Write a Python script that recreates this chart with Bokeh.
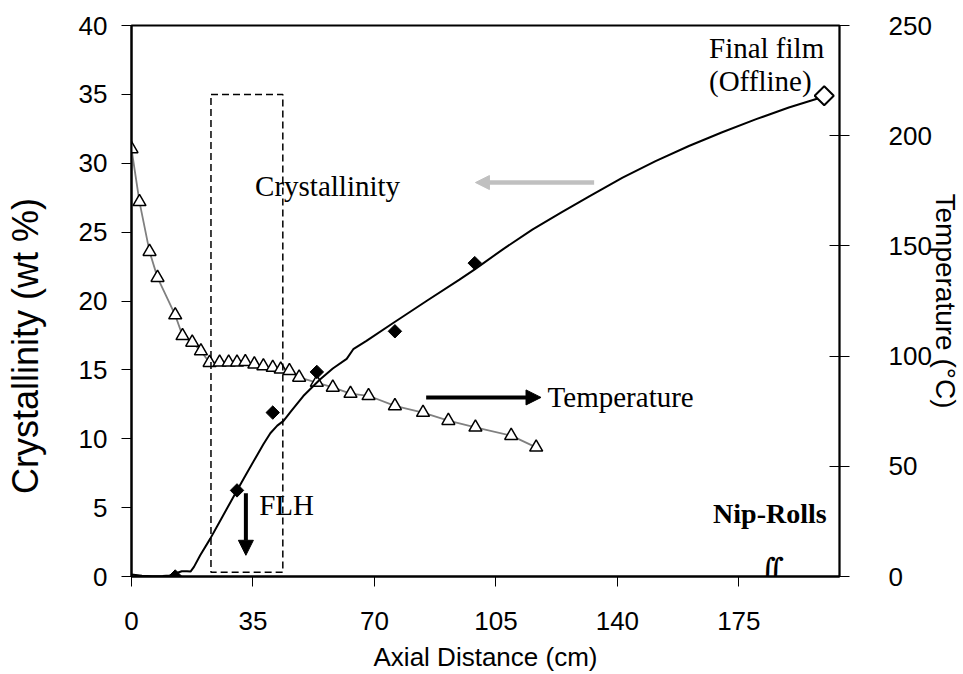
import math
from bokeh.plotting import figure
from bokeh.models import (Range1d, LinearAxis, FixedTicker, BoxAnnotation, Arrow,
                          NormalHead, Label)
from bokeh.embed import file_html
from bokeh.resources import INLINE

# ---------------- data ----------------
x_ticks = [0, 35, 70, 105, 140, 175]
cryst_ticks = [0, 5, 10, 15, 20, 25, 30, 35, 40]
temp_ticks = [0, 50, 100, 150, 200, 250]

# temperature profile (right axis, °C)
temp_x = [0, 2.3, 5.2, 7.5, 12.6, 14.7, 17.5, 20.0, 22.5, 25.4, 28.0, 30.4, 32.8,
          35.4, 38.0, 40.7, 43.0, 45.5, 48.3, 53.4, 58.0, 63.1, 68.3, 75.9, 84.0,
          91.3, 99.1, 109.4, 116.6]
temp_c = [194.0, 170.0, 147.4, 135.6, 118.6, 109.2, 106.2, 102.3, 97.0, 97.2, 97.2,
          97.2, 97.4, 96.3, 95.5, 94.8, 94.0, 93.3, 90.3, 88.0, 85.8, 83.0, 82.0,
          77.4, 74.4, 70.7, 67.7, 63.9, 58.6]

# measured crystallinity (left axis, wt %)
cryst_x = [12.6, 30.4, 40.7, 53.4, 75.9, 98.9]
cryst_wt = [0.0, 6.25, 11.9, 14.85, 17.8, 22.75]

# final film (offline)
final_x = [199.6]
final_wt = [34.9]

# model crystallinity curve
fit_x = [0, 3, 6, 9, 11, 13, 14.5, 16, 17, 18, 19.8, 22.7, 26, 30.4, 33, 36.1, 38,
         40, 42, 43.8, 46, 49.5, 54.3, 58, 62, 63.9, 67.7, 75.4, 85, 94.5, 98.9,
         107, 115.6, 124, 131.9, 141.5, 151, 160.6, 170.2, 180, 189.4, 199.6]
fit_wt = [0.15, 0.06, 0.02, 0.03, 0.08, 0.25, 0.38, 0.38, 0.36, 0.7, 1.54, 2.75,
          4.25, 6.25, 7.4, 8.77, 9.6, 10.4, 10.95, 11.3, 12.0, 13.1, 14.3, 15.1,
          15.8, 16.5, 17.1, 18.4, 20.0, 21.55, 22.3, 23.75, 25.2, 26.45, 27.6, 28.95,
          30.15, 31.25, 32.25, 33.2, 34.05, 34.85]

SANS = "Liberation Sans"
SERIF = "Liberation Serif"
NBSP = "\u00a0"
FIGSP = "\u2007"

p = figure(width=963, height=674, x_range=Range1d(0, 204.0), y_range=Range1d(0, 40),
           output_backend="svg", toolbar_location=None,
           min_border_left=131, min_border_right=122, min_border_top=25,
           min_border_bottom=96)
p.extra_y_ranges = {"temp": Range1d(0, 250)}

p.xgrid.visible = False
p.ygrid.visible = False
p.outline_line_color = "black"
p.outline_line_width = 2
p.background_fill_color = "white"
p.border_fill_color = "white"

# axes
xa = p.xaxis[0]
xa.ticker = FixedTicker(ticks=x_ticks)
xa.axis_label = "Axial Distance (cm)"
ya = p.yaxis[0]
ya.ticker = FixedTicker(ticks=cryst_ticks)
ya.axis_label = "Crystallinity (wt %)" + NBSP * 9
ra = LinearAxis(y_range_name="temp", ticker=FixedTicker(ticks=temp_ticks),
                axis_label="Temperature (°C)")
# pad right-axis labels to equal width so they line up on their left edge
ra.major_label_overrides = {t: str(t) + FIGSP * (3 - len(str(t))) for t in temp_ticks}
p.add_layout(ra, "right")

for ax in (xa, ya, ra):
    ax.axis_line_color = "black"
    ax.axis_line_width = 2
    ax.major_tick_line_color = "black"
    ax.major_tick_line_width = 1
    ax.major_tick_out = 10
    ax.major_tick_in = 0
    ax.minor_tick_line_color = None
    ax.major_label_text_font = SANS
    ax.major_label_text_font_size = "26px"
    ax.major_label_text_color = "black"
    ax.axis_label_text_font = SANS
    ax.axis_label_text_font_style = "normal"
    ax.axis_label_text_color = "black"
ra.major_tick_in = 10
ra.axis_line_width = 1.5
xa.major_label_standoff = 25
xa.axis_label_text_font_size = "26px"
xa.axis_label_standoff = 9
ya.major_label_standoff = 14
ya.axis_label_text_font_size = "36px"
ya.axis_label_standoff = 30
ra.major_label_standoff = 39
ra.axis_label_text_font_size = "28px"
ra.axis_label_standoff = -5

# dashed FLH box
p.add_layout(BoxAnnotation(left=22.9, right=43.6, bottom=0.3, top=35.0,
                           fill_color=None, fill_alpha=0, line_color="black",
                           line_alpha=1.0, line_width=1.5, line_dash="7 4"))

# temperature curve and points
p.line(temp_x, temp_c, y_range_name="temp", line_color="#808080", line_width=1.8)
p.scatter(temp_x, temp_c, y_range_name="temp", marker="triangle", size=13,
          fill_color="white", line_color="black", line_width=1.5)

# crystallinity curve and points
p.line(fit_x, fit_wt, line_color="black", line_width=2)
p.scatter(cryst_x, cryst_wt, marker="square", angle=math.pi / 4, size=9.5,
          fill_color="black", line_color="black")
p.scatter(final_x, final_wt, marker="square", angle=math.pi / 4, size=13.5,
          fill_color="white", line_color="black", line_width=2)

# arrows
p.add_layout(Arrow(x_start=32.96, y_start=6.05, x_end=32.96, y_end=1.54,
                   line_color="black", line_width=4,
                   end=NormalHead(size=15, fill_color="black", line_color="black")))
p.add_layout(Arrow(x_start=84.9, y_start=13.0, x_end=118.0, y_end=13.0,
                   line_color="black", line_width=4,
                   end=NormalHead(size=15, fill_color="black", line_color="black")))
p.add_layout(Arrow(x_start=133.3, y_start=28.6, x_end=99.1, y_end=28.6,
                   line_color="#c0c0c0", line_width=4.5,
                   end=NormalHead(size=14, fill_color="#c0c0c0", line_color="#c0c0c0")))

# texts
def lab(x, y, t, align="left", base="alphabetic", size="29px", style="normal", font=SERIF):
    p.add_layout(Label(x=x, y=y, text=t, text_align=align, text_baseline=base,
                       text_font=font, text_font_size=size, text_font_style=style,
                       text_color="black"))

lab(35.6, 28.35, "Crystallinity")
lab(119.9, 13.05, "Temperature")
lab(36.8, 5.2, "FLH")
lab(166.4, 38.35, "Final film")
lab(166.4, 35.95, "(Offline)")
lab(200.3, 4.6, "Nip-Rolls", align="right", style="bold", size="28px")
# axis-break mark near the nip rolls
lab(183.3, 0.5, "∫", align="center", base="middle", size="32px", font="DejaVu Serif")
lab(185.6, 0.5, "∫", align="center", base="middle", size="32px", font="DejaVu Serif")

open("out.html", "w").write(file_html(p, INLINE))
